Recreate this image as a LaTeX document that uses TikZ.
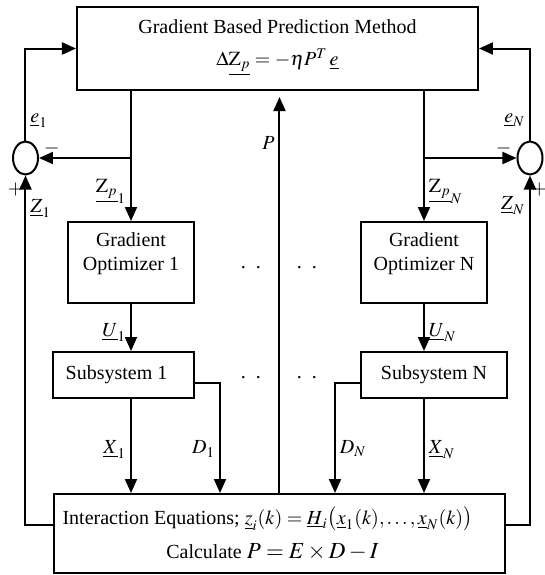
\documentclass[tikz,border=0pt]{standalone}
\usepackage{mathptmx}
\usepackage[no-math]{fontspec}
\setmainfont{Liberation Serif}
\usetikzlibrary{arrows.meta,shapes.geometric}

\begin{document}
\begin{tikzpicture}[x=0.5pt,y=-0.5pt,line width=1pt,>={Triangle[length=7pt,width=6pt]},
    box/.style={draw,align=center,inner sep=0pt},
    sum/.style={draw,ellipse,minimum width=12.5pt,minimum height=16.5pt,inner sep=0pt},
    lbl/.style={inner sep=2pt}]
  \useasboundingbox (0,0) rectangle (545,575);
  \node[box,minimum width=200.5pt,minimum height=41.5pt,text depth=6pt] (top) at (277.5,48.5)
    {Gradient Based Prediction Method\\[4pt]$\Delta\underline{\mathrm{Z}_p}=-\eta P^{T}\,\underline{e}$};
  \node[sum] (sumL) at (25.5,158) {};
  \node[sum] (sumR) at (530,158) {};
  \node[box,minimum width=63pt,minimum height=40.5pt,text depth=11pt] (go1) at (131,262.5) {Gradient\\Optimizer 1};
  \node[box,minimum width=63pt,minimum height=40.5pt,text depth=11pt] (goN) at (424,262.5) {Gradient\\Optimizer N};
  \node[box,minimum width=70.5pt,minimum height=23pt] (sub1) at (123.5,375) {Subsystem 1\hspace*{7pt}};
  \node[box,minimum width=73pt,minimum height=23pt] (subN) at (434,375) {Subsystem N};
  \node[box,minimum width=225.5pt,minimum height=39.5pt] (bot) at (279.5,533.5)
    {Interaction Equations; $\underline{z}_i(k)=\underline{H}_i\bigl(\underline{x}_1(k),\ldots,\underline{x}_N(k)\bigr)$\hspace*{12pt}\\[5pt]
     Calculate {\fontsize{11.5}{13}\selectfont $P=E\times D-I$}\hspace*{7pt}};
  \foreach \x/\y [count=\i] in {251/268,307/268,251/378,307/378}
    \node (dot\i) at (\x,\y) {.\ \ .};
  % predictor loop
  \draw[->] (sumL) |- node[lbl,right,pos=0.11] {$\underline{e}_1$} (top);
  \draw[->] (sumR) |- node[lbl,left,pos=0.11] {$\underline{e}_N$} (top);
  \draw[->] (top.south -| go1) -- node[lbl,left,pos=0.77] {$\underline{\mathrm{Z}_p}_1$} (go1);
  \draw[->] (top.south -| goN) -- node[lbl,right,pos=0.77] {$\underline{\mathrm{Z}_p}_N$} (goN);
  \draw[->] (go1 |- sumL) -- node[lbl,above,pos=0.86,inner sep=1pt] {$-$} (sumL);
  \draw[->] (goN |- sumR) -- node[lbl,above,pos=0.86,inner sep=1pt] {$-$} (sumR);
  \draw[->,shorten >=3pt] (bot) -- node[lbl,left,pos=0.87] {$P$} (bot |- top.south);
  % local controllers and subsystems
  \draw[->] (go1) -- node[lbl,left,pos=0.6] {$\underline{U}_1$} (go1 |- sub1.north);
  \draw[->] (goN) -- node[lbl,right,pos=0.6] {$\underline{U}_N$} (goN |- subN.north);
  \draw[->] (go1 |- sub1.south) -- node[lbl,left,pos=0.54] {$\underline{X}_1$} (go1 |- bot.north);
  \draw[->] (goN |- subN.south) -- node[lbl,right,pos=0.54] {$\underline{X}_N$} (goN |- bot.north);
  \draw[->] ([yshift=-4pt]sub1.east) -| node[lbl,left,pos=0.8] {$D_1$} ([xshift=12.5pt]sub1.east |- bot.north);
  \draw[->] ([yshift=-4pt]subN.west) -| node[lbl,right,pos=0.8] {$D_N$} ([xshift=-12.5pt]subN.west |- bot.north);
  % feedback
  \draw[->] ([yshift=4.25pt]bot.west) -| node[lbl,right,pos=0.953] {$\underline{Z}_1$} node[lbl,left,pos=0.98,inner sep=0.5pt] {$+$} (sumL);
  \draw[->] ([yshift=4.25pt]bot.east) -| node[lbl,left,pos=0.957] {$\underline{Z}_N$} node[lbl,right,pos=0.98,inner sep=0.3pt] {$+$} (sumR);
\end{tikzpicture}
\end{document}
